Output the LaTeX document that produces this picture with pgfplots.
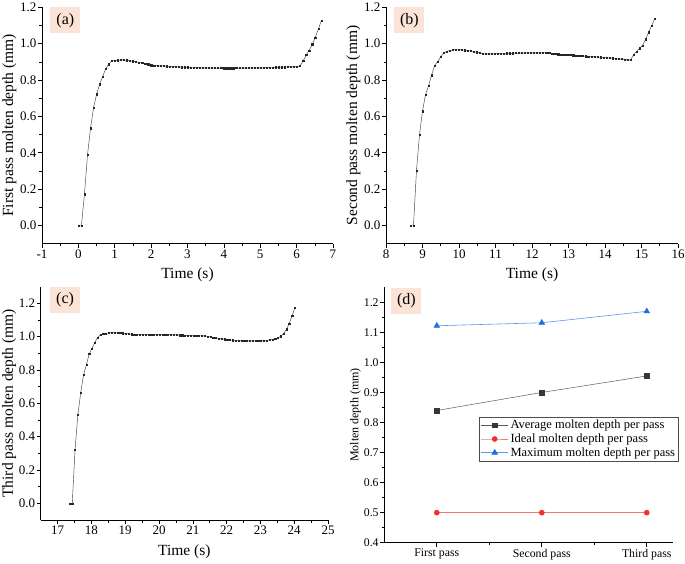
\documentclass[border=0pt]{standalone}
\usepackage{pgfplots}
\pgfplotsset{compat=1.18}
\usepackage{fontspec}
\setmainfont{Liberation Serif}
\definecolor{lblbg}{RGB}{251,228,213}
\definecolor{avgc}{RGB}{55,55,55}
\definecolor{avgl}{RGB}{90,90,90}
\definecolor{idc}{RGB}{250,45,45}
\definecolor{idl}{RGB}{242,120,120}
\definecolor{mxc}{RGB}{30,110,230}
\definecolor{mxl}{RGB}{90,150,240}
\tikzset{lbl/.style={anchor=north west, fill=lblbg, minimum width=30pt, minimum height=26pt, inner sep=0pt, font=\fontsize{16}{16}\selectfont}}
\pgfplotsset{
  base/.style={
    scale only axis,
    axis x line=bottom, axis y line=left,
    axis line style={-, black, line width=0.6pt},
    tick align=outside,
    major tick length=4pt, minor tick length=2.5pt,
    every tick/.style={black, line width=0.6pt},
    /pgf/number format/assume math mode=true,
    tick label style={font=\fontsize{13}{13}\selectfont},
    label style={font=\fontsize{15.5}{15.5}\selectfont},
    yticklabel style={inner sep=1.5pt},
    xticklabel style={inner sep=2pt},
    clip=false,
  },
  curve/.style={
    base,
    ytick={0,0.2,...,1.2}, minor y tick num=1, minor x tick num=1,
    yticklabel style={/pgf/number format/.cd, fixed, fixed zerofill, precision=1},
    xlabel={Time (s)},
    xlabel style={at={(axis description cs:0.5,-0.133)}, anchor=center},
    ylabel style={at={(axis description cs:-0.112,0.5)}, anchor=center},
  },
  dataline/.style={black!75, line width=0.45pt, mark=square*, mark size=0.6pt, mark options={solid, fill=black!85, draw=black!85}},
}
\begin{document}
\begin{tikzpicture}
\useasboundingbox (0,0) rectangle (685pt,563pt);
% (a)
\begin{axis}[curve, at={(42pt,319.3pt)}, anchor=south west, width=291pt, height=236.4pt,
  xmin=-1, xmax=7, ymin=-0.1, ymax=1.2, xtick={-1,0,...,7},
  ylabel={First pass molten depth (mm)}]
\addplot[dataline] table {
0.000 0
0.084 0
0.167 0.172
0.251 0.388
0.334 0.535
0.418 0.649
0.501 0.722
0.585 0.777
0.668 0.819
0.752 0.863
0.835 0.887
0.919 0.905
1.002 0.908
1.086 0.909
1.169 0.910
1.253 0.911
1.336 0.909
1.420 0.906
1.503 0.903
1.587 0.900
1.670 0.897
1.754 0.894
1.837 0.891
1.921 0.887
2.004 0.882
2.088 0.880
2.171 0.879
2.255 0.878
2.338 0.877
2.422 0.876
2.505 0.875
2.589 0.874
2.672 0.873
2.756 0.872
2.839 0.871
2.923 0.870
3.006 0.870
3.090 0.869
3.173 0.869
3.257 0.868
3.340 0.868
3.424 0.867
3.507 0.867
3.591 0.867
3.674 0.866
3.758 0.866
3.841 0.866
3.925 0.866
4.008 0.865
4.092 0.865
4.175 0.865
4.259 0.865
4.342 0.866
4.426 0.866
4.509 0.866
4.593 0.866
4.676 0.866
4.760 0.867
4.843 0.867
4.927 0.867
5.010 0.867
5.094 0.868
5.177 0.868
5.261 0.869
5.344 0.869
5.428 0.870
5.511 0.870
5.595 0.871
5.678 0.871
5.762 0.872
5.845 0.872
5.929 0.873
6.012 0.874
6.096 0.878
6.179 0.905
6.263 0.938
6.346 0.962
6.430 0.997
6.513 1.034
6.597 1.080
6.680 1.127
};
\node[lbl] at (rel axis cs:0.028,1.0) {(a)};
\end{axis}
% (b)
\begin{axis}[curve, at={(386pt,319.3pt)}, anchor=south west, width=292pt, height=236.4pt,
  xmin=8, xmax=16, ymin=-0.1, ymax=1.2, xtick={8,9,...,16},
  ylabel={Second pass molten depth (mm)}]
\addplot[dataline] table {
8.670 0
8.753 0
8.835 0.302
8.918 0.500
9.000 0.629
9.083 0.720
9.166 0.768
9.248 0.827
9.331 0.878
9.413 0.900
9.496 0.926
9.579 0.948
9.661 0.957
9.744 0.962
9.826 0.965
9.909 0.968
9.992 0.968
10.074 0.966
10.157 0.964
10.239 0.962
10.322 0.960
10.405 0.957
10.487 0.953
10.570 0.949
10.652 0.945
10.735 0.944
10.818 0.944
10.900 0.944
10.983 0.945
11.065 0.945
11.148 0.946
11.231 0.946
11.313 0.947
11.396 0.947
11.478 0.947
11.561 0.948
11.644 0.948
11.726 0.948
11.809 0.949
11.891 0.949
11.974 0.949
12.057 0.949
12.139 0.949
12.222 0.949
12.304 0.949
12.387 0.949
12.470 0.948
12.552 0.946
12.635 0.944
12.717 0.942
12.800 0.941
12.883 0.939
12.965 0.938
13.048 0.937
13.130 0.936
13.213 0.935
13.296 0.934
13.378 0.932
13.461 0.931
13.543 0.930
13.626 0.929
13.709 0.928
13.791 0.926
13.874 0.925
13.956 0.924
14.039 0.922
14.122 0.921
14.204 0.920
14.287 0.918
14.369 0.916
14.452 0.915
14.535 0.913
14.617 0.912
14.700 0.910
14.782 0.938
14.865 0.956
14.948 0.975
15.030 0.990
15.113 1.024
15.195 1.063
15.278 1.099
15.360 1.136
};
\node[lbl] at (rel axis cs:0.028,1.0) {(b)};
\end{axis}
% (c)
\begin{axis}[curve, at={(40.7pt,43pt)}, anchor=south west, width=287.3pt, height=233.3pt,
  xmin=16.5, xmax=25, ymin=-0.1, ymax=1.3, xtick={17,18,...,25},
  xlabel style={at={(axis description cs:0.5,-0.136)}},
  ylabel style={at={(axis description cs:-0.11,0.5)}},
  ylabel={Third pass molten depth (mm)}]
\addplot[dataline] table {
17.350 0
17.433 0
17.517 0.324
17.600 0.534
17.684 0.664
17.767 0.770
17.850 0.830
17.934 0.896
18.017 0.930
18.101 0.964
18.184 0.996
18.267 1.010
18.351 1.016
18.434 1.020
18.518 1.024
18.601 1.026
18.684 1.026
18.768 1.025
18.851 1.023
18.935 1.021
19.018 1.019
19.101 1.017
19.185 1.015
19.268 1.014
19.352 1.013
19.435 1.013
19.518 1.013
19.602 1.013
19.685 1.013
19.769 1.013
19.852 1.014
19.935 1.014
20.019 1.014
20.102 1.014
20.186 1.013
20.269 1.013
20.352 1.012
20.436 1.011
20.519 1.010
20.603 1.009
20.686 1.009
20.769 1.008
20.853 1.008
20.936 1.008
21.020 1.007
21.103 1.007
21.186 1.006
21.270 1.005
21.353 1.004
21.437 1.002
21.520 0.999
21.603 0.996
21.687 0.993
21.770 0.990
21.854 0.987
21.937 0.985
22.020 0.983
22.104 0.981
22.187 0.979
22.271 0.978
22.354 0.977
22.437 0.976
22.521 0.975
22.604 0.975
22.688 0.975
22.771 0.975
22.854 0.975
22.938 0.975
23.021 0.976
23.105 0.977
23.188 0.978
23.271 0.980
23.355 0.983
23.438 0.987
23.522 0.993
23.605 1.003
23.688 1.018
23.772 1.045
23.855 1.080
23.939 1.125
24.022 1.174
};
\node[lbl] at (rel axis cs:0.032,1.0) {(c)};
\end{axis}
% (d)
\begin{axis}[base, at={(384.3pt,20.3pt)}, anchor=south west, width=288.7pt, height=255.4pt,
  xmin=-0.5, xmax=2.25, ymin=0.4, ymax=1.25,
  xtick={0,1,2}, xticklabels={First pass, Second pass, Third pass},
  minor xtick={0.5,1.5},
  ytick={0.4,0.5,...,1.2}, minor y tick num=1,
  tick label style={font=\fontsize{11.8}{11.8}\selectfont},
  yticklabel style={/pgf/number format/.cd, fixed, fixed zerofill, precision=1},
  ylabel={Molten depth (mm)},
  ylabel style={at={(axis description cs:-0.1,0.5)}, anchor=center, font=\fontsize{12}{12}\selectfont},
  legend cell align=left,
  legend style={at={(rel axis cs:1.02,0.494)}, anchor=north east, draw=black!70, line width=0.4pt,
    font=\fontsize{12.5}{14}\selectfont, inner sep=1.5pt, row sep=-0.5pt},
  legend image code/.code={\draw[mark repeat=2, mark phase=2] plot coordinates {(0pt,0pt) (13.5pt,0pt) (27pt,0pt)};},
]
\addplot[avgl, line width=0.5pt, mark=square*, mark size=2.4pt, mark options={fill=avgc, draw=avgc}] coordinates {(0,0.840) (1,0.900) (2,0.955)};
\addlegendentry{Average molten depth per pass}
\addplot[idl, line width=0.6pt, mark=*, mark size=2.5pt, mark options={fill=idc, draw=idc}] coordinates {(0,0.500) (1,0.500) (2,0.500)};
\addlegendentry{Ideal molten depth per pass}
\addplot[mxl, line width=0.6pt, mark=triangle*, mark size=3.2pt, mark options={fill=mxc, draw=mxc}] coordinates {(0,1.122) (1,1.132) (2,1.170)};
\addlegendentry{Maximum molten depth per pass}
\node[lbl] at (rel axis cs:0.024,1.0) {(d)};
\end{axis}
\end{tikzpicture}
\end{document}
